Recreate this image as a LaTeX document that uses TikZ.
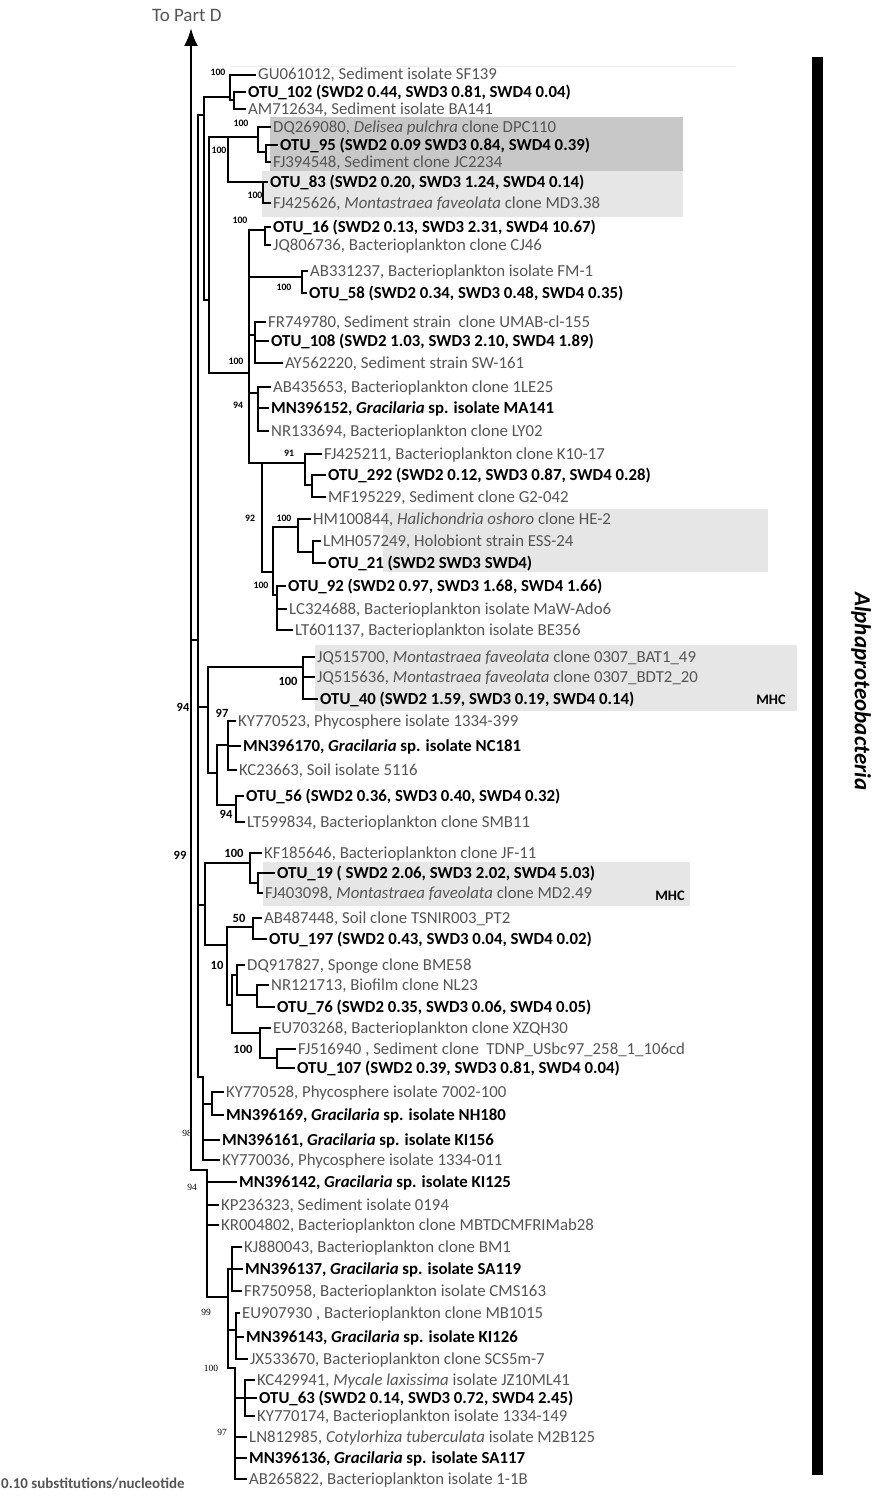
\documentclass[tikz,border=0pt]{standalone}
\usepackage{fontspec}
\setmainfont{Carlito}
\newfontfamily\numserif{Liberation Serif}
\usetikzlibrary{arrows.meta}
\definecolor{lbl}{RGB}{85,85,85}
\definecolor{boxdark}{RGB}{200,200,200}
\definecolor{boxlight}{RGB}{230,230,230}
\newcommand\treeedges[2]{\foreach \c in {#2} {\draw[br] (#1) |- (\c);}}
\begin{document}
\begin{tikzpicture}[x=1pt,y=-1pt,
 br/.style={line width=2.2pt, line join=miter, line cap=rect},
 tip/.style={anchor=west, inner xsep=3pt, inner ysep=0pt, text height=13pt, text depth=3pt, text=lbl, font=\fontsize{16.8}{20}\selectfont},
 tipb/.style={tip, text=black, font=\fontsize{16.8}{20}\selectfont\bfseries},
 sup/.style={inner sep=0pt, font=\fontsize{9.8}{10}\selectfont\bfseries},
 supl/.style={inner sep=0pt, font=\fontsize{12.5}{13}\selectfont\bfseries},
 sups/.style={inner sep=0pt, font=\fontsize{9.5}{10}\selectfont\numserif},
 mhc/.style={inner sep=0pt, font=\fontsize{14.5}{15}\selectfont\bfseries},
]
\useasboundingbox (0,0) rectangle (873,1504);
\fill[white] (0,0) rectangle (873,1504);
% highlight boxes
\fill[boxdark] (270,117) rectangle (683,171);
\fill[boxlight] (262,171) rectangle (683,217);
\fill[boxlight] (383,509) rectangle (768,572);
\fill[boxlight] (315,645) rectangle (797,711);
\fill[boxlight] (263,862) rectangle (690,906);
\draw[black!8, line width=1pt] (230,67) -- (735,67);

% tips
\node[tip]  (t1)  at (255,75)  {GU061012, Sediment isolate SF139};
\node[tipb] (t2)  at (245,92)  {OTU\_102 (SWD2 0.44, SWD3 0.81, SWD4 0.04)};
\node[tip]  (t3)  at (245,109) {AM712634, Sediment isolate BA141};
\node[tip]  (t4)  at (270,127) {DQ269080, \textit{Delisea pulchra} clone DPC110};
\node[tipb] (t5)  at (277,145) {OTU\_95 (SWD2 0.09 SWD3 0.84, SWD4 0.39)};
\node[tip]  (t6)  at (270,162) {FJ394548, Sediment clone JC2234};
\node[tipb] (t7)  at (267,182) {OTU\_83 (SWD2 0.20, SWD3 1.24, SWD4 0.14)};
\node[tip]  (t8)  at (270,203) {FJ425626, \textit{Montastraea faveolata} clone MD3.38};
\node[tipb] (t9)  at (270,227) {OTU\_16 (SWD2 0.13, SWD3 2.31, SWD4 10.67)};
\node[tip]  (t10) at (270,245) {JQ806736, Bacterioplankton clone CJ46};
\node[tip]  (t11) at (307,271) {AB331237, Bacterioplankton isolate FM-1};
\node[tipb] (t12) at (306,293) {OTU\_58 (SWD2 0.34, SWD3 0.48, SWD4 0.35)};
\node[tip]  (t13) at (265,322) {FR749780, Sediment strain\ \ clone UMAB-cl-155};
\node[tipb] (t14) at (268,341) {OTU\_108 (SWD2 1.03, SWD3 2.10, SWD4 1.89)};
\node[tip]  (t15) at (282,363) {AY562220, Sediment strain SW-161};
\node[tip]  (t16) at (270,387) {AB435653, Bacterioplankton clone 1LE25};
\node[tipb] (t17) at (268,408) {MN396152, \textit{Gracilaria} sp. isolate MA141};
\node[tip]  (t18) at (268,431) {NR133694, Bacterioplankton clone LY02};
\node[tip]  (t19) at (321,454) {FJ425211, Bacterioplankton clone K10-17};
\node[tipb] (t20) at (325,475) {OTU\_292 (SWD2 0.12, SWD3 0.87, SWD4 0.28)};
\node[tip]  (t21) at (325,497) {MF195229, Sediment clone G2-042};
\node[tip]  (t22) at (310,519) {HM100844, \textit{Halichondria oshoro} clone HE-2};
\node[tip]  (t23) at (320,541) {LMH057249, Holobiont strain ESS-24};
\node[tipb] (t24) at (325,563) {OTU\_21 (SWD2 SWD3 SWD4)};
\node[tipb] (t25) at (285,586) {OTU\_92 (SWD2 0.97, SWD3 1.68, SWD4 1.66)};
\node[tip]  (t26) at (286,609) {LC324688, Bacterioplankton isolate MaW-Ado6};
\node[tip]  (t27) at (292,630) {LT601137, Bacterioplankton isolate BE356};
\node[tip]  (t28) at (314,657) {JQ515700, \textit{Montastraea faveolata} clone 0307\_BAT1\_49};
\node[tip]  (t29) at (314,677) {JQ515636, \textit{Montastraea faveolata} clone 0307\_BDT2\_20};
\node[tipb] (t30) at (317,699) {OTU\_40 (SWD2 1.59, SWD3 0.19, SWD4 0.14)};
\node[tip]  (t31) at (235,721) {KY770523, Phycosphere isolate 1334-399};
\node[tipb] (t32) at (240,746) {MN396170, \textit{Gracilaria} sp. isolate NC181};
\node[tip]  (t33) at (236,770) {KC23663, Soil isolate 5116};
\node[tipb] (t34) at (243,796) {OTU\_56 (SWD2 0.36, SWD3 0.40, SWD4 0.32)};
\node[tip]  (t35) at (244,822) {LT599834, Bacterioplankton clone SMB11};
\node[tip]  (t36) at (261,853) {KF185646, Bacterioplankton clone JF-11};
\node[tipb] (t37) at (274,873) {OTU\_19 ( SWD2 2.06, SWD3 2.02, SWD4 5.03)};
\node[tip]  (t38) at (262,893) {FJ403098, \textit{Montastraea faveolata} clone MD2.49};
\node[tip]  (t39) at (261,918) {AB487448, Soil clone TSNIR003\_PT2};
\node[tipb] (t40) at (266,939) {OTU\_197 (SWD2 0.43, SWD3 0.04, SWD4 0.02)};
\node[tip]  (t41) at (244,965) {DQ917827, Sponge clone BME58};
\node[tip]  (t42) at (268,985) {NR121713, Biofilm clone NL23};
\node[tipb] (t43) at (274,1007) {OTU\_76 (SWD2 0.35, SWD3 0.06, SWD4 0.05)};
\node[tip]  (t44) at (270,1028) {EU703268, Bacterioplankton clone XZQH30};
\node[tip]  (t45) at (295,1049) {FJ516940 , Sediment clone\ \ TDNP\_USbc97\_258\_1\_106cd};
\node[tipb] (t46) at (294,1068) {OTU\_107 (SWD2 0.39, SWD3 0.81, SWD4 0.04)};
\node[tip]  (t47) at (223,1092) {KY770528, Phycosphere isolate 7002-100};
\node[tipb] (t48) at (223,1115) {MN396169, \textit{Gracilaria} sp. isolate NH180};
\node[tipb] (t49) at (219,1140) {MN396161, \textit{Gracilaria} sp. isolate KI156};
\node[tip]  (t50) at (219,1160) {KY770036, Phycosphere isolate 1334-011};
\node[tipb] (t51) at (236,1182) {MN396142, \textit{Gracilaria} sp. isolate KI125};
\node[tip]  (t52) at (218,1205) {KP236323, Sediment isolate 0194};
\node[tip]  (t53) at (218,1225) {KR004802, Bacterioplankton clone MBTDCMFRIMab28};
\node[tip]  (t54) at (241,1247) {KJ880043, Bacterioplankton clone BM1};
\node[tipb] (t55) at (242,1269) {MN396137, \textit{Gracilaria} sp. isolate SA119};
\node[tip]  (t56) at (241,1291) {FR750958, Bacterioplankton isolate CMS163};
\node[tip]  (t57) at (239,1313) {EU907930 , Bacterioplankton clone MB1015};
\node[tipb] (t58) at (243,1337) {MN396143, \textit{Gracilaria} sp. isolate KI126};
\node[tip]  (t59) at (247,1359) {JX533670, Bacterioplankton clone SCS5m-7};
\node[tip]  (t60) at (254,1380) {KC429941, \textit{Mycale laxissima} isolate JZ10ML41};
\node[tipb] (t61) at (256,1398) {OTU\_63 (SWD2 0.14, SWD3 0.72, SWD4 2.45)};
\node[tip]  (t62) at (254,1416) {KY770174, Bacterioplankton isolate 1334-149};
\node[tip]  (t63) at (246,1437) {LN812985, \textit{Cotylorhiza tuberculata} isolate M2B125};
\node[tipb] (t64) at (246,1458) {MN396136, \textit{Gracilaria} sp. isolate SA117};
\node[tip]  (t65) at (246,1479) {AB265822, Bacterioplankton isolate 1-1B};

% internal nodes
\coordinate (top) at (191,28);
\coordinate (root) at (191,1170);
\coordinate (sP) at (191,640);
\coordinate (P) at (198,640);
\coordinate (U0) at (204,115);
\coordinate (U1) at (209,300);
\coordinate (a1) at (230,97);
\coordinate (a1b) at (234,100);
\coordinate (a2) at (228,137);
\coordinate (a2b) at (258,137);
\coordinate (a2c) at (266,152);
\coordinate (a2d) at (263,182);
\coordinate (B) at (249,373);
\coordinate (b1) at (265,230);
\coordinate (b2) at (302,277);
\coordinate (b3) at (255,335);
\coordinate (b4) at (258,393);
\coordinate (b5) at (262,463);
\coordinate (b5a) at (305,463);
\coordinate (b5a2) at (312,485);
\coordinate (b5b) at (273,572);
\coordinate (b5c) at (298,527);
\coordinate (b5c2) at (313,552);
\coordinate (b5d) at (277,595);
\coordinate (N94) at (208,707);
\coordinate (c40) at (303,667);
\coordinate (N97b) at (217,773);
\coordinate (N97) at (228,745);
\coordinate (c56) at (236,805);
\coordinate (N99) at (205,905);
\coordinate (c19) at (250,863);
\coordinate (c19b) at (258,883);
\coordinate (c197) at (227,945);
\coordinate (c50) at (253,927);
\coordinate (cX) at (232,1005);
\coordinate (c10) at (237,975);
\coordinate (c76) at (257,995);
\coordinate (cEU) at (260,1033);
\coordinate (c107) at (277,1058);
\coordinate (N98) at (203,1077);
\coordinate (N98a) at (212,1104);
\coordinate (L94) at (207,1170);
\coordinate (N99c) at (228,1297);
\coordinate (NKJ) at (232,1269);
\coordinate (NEU) at (236,1330);
\coordinate (N97c) at (235,1368);
\coordinate (N63) at (245,1398);

% stem with arrow
\draw[line width=2.6pt, -{Latex[length=18pt,width=14pt]}] (root) -- (top);
\draw[br] (sP) -- (P);
\draw[br] (root) -- (L94);

\treeedges{P}{U0,N94,N99,N98}
\treeedges{U0}{a1,U1}
\treeedges{U1}{a2,B}
\treeedges{a1}{t1,a1b}
\treeedges{a1b}{t2,t3}
\treeedges{a2}{a2b,a2d}
\treeedges{a2b}{t4,a2c}
\treeedges{a2c}{t5,t6}
\treeedges{a2d}{t7,t8}
\treeedges{B}{b1,b2,b3,b4,b5}
\treeedges{b1}{t9,t10}
\treeedges{b2}{t11,t12}
\treeedges{b3}{t13,t14,t15}
\treeedges{b4}{t16,t17,t18}
\treeedges{b5}{b5a,b5b}
\treeedges{b5a}{t19,b5a2}
\treeedges{b5a2}{t20,t21}
\treeedges{b5b}{b5c,b5d}
\treeedges{b5c}{t22,b5c2}
\treeedges{b5c2}{t23,t24}
\treeedges{b5d}{t25,t26,t27}
\treeedges{N94}{c40,N97b}
\treeedges{c40}{t28,t29,t30}
\treeedges{N97b}{N97,c56}
\treeedges{N97}{t31,t32,t33}
\treeedges{c56}{t34,t35}
\treeedges{N99}{c19,c197}
\treeedges{c19}{t36,c19b}
\treeedges{c19b}{t37,t38}
\treeedges{c197}{c50,cX}
\treeedges{c50}{t39,t40}
\treeedges{cX}{c10,cEU}
\treeedges{c10}{t41,c76}
\treeedges{c76}{t42,t43}
\treeedges{cEU}{t44,c107}
\treeedges{c107}{t45,t46}
\treeedges{N98}{N98a,t49,t50}
\treeedges{N98a}{t47,t48}
\treeedges{L94}{t51,t52,t53,N99c}
\treeedges{N99c}{NKJ,NEU,N97c}
\treeedges{NKJ}{t54,t55,t56}
\treeedges{NEU}{t57,t58,t59}
\treeedges{N97c}{N63,t63,t64,t65}
\treeedges{N63}{t60,t61,t62}

% support values
\node[sup] (s1) at (218,72) {100};
\node[sup] (s2) at (241,123) {100};
\node[sup] (s3) at (219,150) {100};
\node[sup] (s4) at (255,195) {100};
\node[sup] (s5) at (240,220) {100};
\node[sup] (s6) at (284,287) {100};
\node[sup] (s7) at (236,361) {100};
\node[sup] (s8) at (238,405) {94};
\node[sup] (s9) at (289,453) {91};
\node[sup] (s10) at (250,518) {92};
\node[sup] (s11) at (284,518) {100};
\node[sup] (s12) at (261,585) {100};
\node[supl] (s13) at (288,681) {100};
\node[supl] (s14) at (183,707) {94};
\node[supl] (s15) at (222,713) {97};
\node[supl] (s16) at (226,814) {94};
\node[supl] (s17) at (180,855) {99};
\node[supl] (s18) at (234,853) {100};
\node[supl] (s19) at (239,918) {50};
\node[supl] (s20) at (217,965) {10};
\node[supl] (s21) at (243,1049) {100};
\node[sups] (s22) at (187,1133) {98};
\node[sups] (s23) at (192,1187) {94};
\node[sups] (s24) at (206,1312) {99};
\node[sups] (s25) at (211,1368) {100};
\node[sups] (s26) at (222,1432) {97};

\node[mhc] (m1) at (771,700) {MHC};
\node[mhc] (m2) at (670,896) {MHC};

% labels
\node[anchor=west, inner sep=0pt, text=lbl, font=\fontsize{19}{22}\selectfont] (partd) at (152,15) {To Part D};
\node[anchor=west, inner sep=0pt, text=lbl, font=\fontsize{15}{17}\selectfont\bfseries] (scale) at (1,1484) {0.10 substitutions/nucleotide};
\fill (812,57) rectangle (823,1475);
\node[anchor=west, rotate=-90, inner sep=0pt, font=\fontsize{23}{25}\selectfont\bfseries\itshape] (clade) at (861,592) {Alphaproteobacteria};
\end{tikzpicture}
\end{document}
